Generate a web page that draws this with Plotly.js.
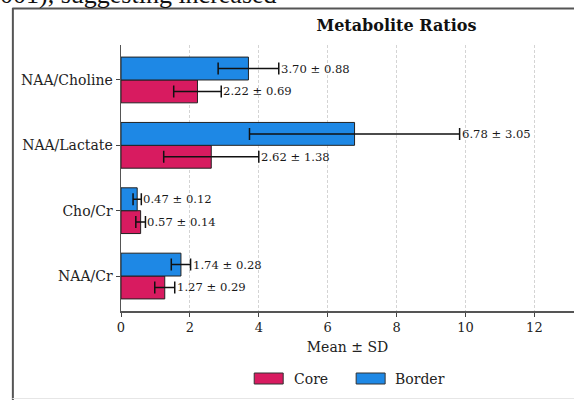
<!DOCTYPE html>
<html>
<head>
<meta charset="utf-8">
<script src="https://cdn.plot.ly/plotly-3.0.1.min.js"></script>
<style>html,body{margin:0;padding:0;background:#fff;}#chart{width:574px;height:400px;}</style>
</head>
<body>
<div id="chart"></div>
<script>
// ---- data ----
var categories = ["NAA/Cr", "Cho/Cr", "NAA/Lactate", "NAA/Choline"];
var coreMean = [1.27, 0.57, 2.62, 2.22];
var coreSD = [0.29, 0.14, 1.38, 0.69];
var borderMean = [1.74, 0.47, 6.78, 3.70];
var borderSD = [0.28, 0.12, 3.05, 0.88];
var seriesNames = ["Core", "Border"];
var xTicks = [0, 2, 4, 6, 8, 10, 12];

// ---- layout helpers ----
var W = 574, H = 400;
var L = 120.7, R = 0, T = 45, B = 89;
var PW = W - L - R, PH = H - T - B;
function px(x) { return (x - L) / PW; }
function py(y) { return (H - B - y) / PH; }

var coreColor = "#D81B60", borderColor = "#1E88E5";
var serif = "DejaVu Serif, serif";
var barW = 0.35;

var traces = [
  {
    type: "bar", orientation: "h", name: seriesNames[0],
    y: categories, x: coreMean,
    marker: {color: coreColor, line: {color: "#222", width: 1}},
    error_x: {type: "data", array: coreSD, visible: true, color: "#111", thickness: 1.5, width: 6},
    showlegend: false, hoverinfo: "skip"
  },
  {
    type: "bar", orientation: "h", name: seriesNames[1],
    y: categories, x: borderMean,
    marker: {color: borderColor, line: {color: "#222", width: 1}},
    error_x: {type: "data", array: borderSD, visible: true, color: "#111", thickness: 1.5, width: 6},
    showlegend: false, hoverinfo: "skip"
  }
];

var annotations = [];
function addLabels(means, sds, offset) {
  for (var i = 0; i < categories.length; i++) {
    annotations.push({
      xref: "x", yref: "y", x: means[i] + sds[i], y: i + offset,
      text: means[i].toFixed(2) + " ± " + sds[i].toFixed(2),
      showarrow: false, xanchor: "left", yanchor: "middle", xshift: 0,
      font: {family: serif, size: 11.6, color: "#1a1a1a"}
    });
  }
}
addLabels(coreMean, coreSD, -barW / 2);
addLabels(borderMean, borderSD, barW / 2);

// top document text (clipped, as in the source page)
annotations.push({
  xref: "paper", yref: "paper", x: px(-2), y: py(11), xanchor: "left", yanchor: "bottom",
  text: "001), suggesting increased", showarrow: false,
  font: {family: "Liberation Serif, Times New Roman, serif", size: 26, color: "#111"}
});

// custom legend text
annotations.push({xref: "paper", yref: "paper", x: px(292), y: py(378.5), xanchor: "left", yanchor: "middle",
  text: seriesNames[0], showarrow: false, font: {family: serif, size: 14, color: "#222"}});
annotations.push({xref: "paper", yref: "paper", x: px(393), y: py(378.5), xanchor: "left", yanchor: "middle",
  text: seriesNames[1], showarrow: false, font: {family: serif, size: 14, color: "#222"}});

var shapes = [
  // frame
  {type: "line", xref: "paper", yref: "paper", x0: px(12.5), x1: px(12.5), y0: py(8), y1: py(400), line: {color: "#555", width: 2}},
  {type: "line", xref: "paper", yref: "paper", x0: px(12), x1: px(574), y0: py(8.5), y1: py(8.5), line: {color: "#555", width: 2}},
  {type: "line", xref: "paper", yref: "paper", x0: px(12), x1: px(574), y0: py(398.5), y1: py(398.5), line: {color: "#e6e6e6", width: 1}},
  // legend patches
  {type: "rect", xref: "paper", yref: "paper", x0: px(254), x1: px(283), y0: py(373), y1: py(384), fillcolor: coreColor, line: {color: "#333", width: 1}},
  {type: "rect", xref: "paper", yref: "paper", x0: px(356), x1: px(385), y0: py(373), y1: py(384), fillcolor: borderColor, line: {color: "#333", width: 1}}
];

var layout = {
  width: W, height: H,
  margin: {l: L, r: R, t: T, b: B, pad: 0},
  paper_bgcolor: "#fff", plot_bgcolor: "#fff",
  barmode: "group", bargap: 0.3, bargroupgap: 0,
  title: {text: "<b>Metabolite Ratios</b>", x: 349 / W, xanchor: "center", xref: "paper",
          y: 1 - 25 / H, yanchor: "middle", yref: "container",
          font: {family: serif, size: 16, color: "#111"}},
  xaxis: {
    range: [0, PW / 34.47], tickvals: xTicks, ticktext: xTicks.map(String),
    showline: true, linecolor: "#555", linewidth: 1.5,
    ticks: "outside", ticklen: 4, tickwidth: 1, tickcolor: "#444",
    showgrid: true, gridcolor: "#d4d4d4", gridwidth: 1, griddash: "3px,2px",
    zeroline: false,
    tickfont: {family: serif, size: 13, color: "#222"},
    title: {text: "Mean ± SD", standoff: 8, font: {family: serif, size: 14, color: "#222"}}
  },
  yaxis: {
    type: "category", categoryorder: "array", categoryarray: categories,
    range: [-0.535, 3.535],
    showline: true, linecolor: "#555", linewidth: 1.5,
    ticks: "outside", ticklen: 4, tickwidth: 1, tickcolor: "#444",
    showgrid: false, zeroline: false,
    tickfont: {family: serif, size: 14, color: "#222"}
  },
  annotations: annotations,
  shapes: shapes,
  showlegend: false
};

Plotly.newPlot("chart", traces, layout, {displayModeBar: false, staticPlot: true});
</script>
</body>
</html>
